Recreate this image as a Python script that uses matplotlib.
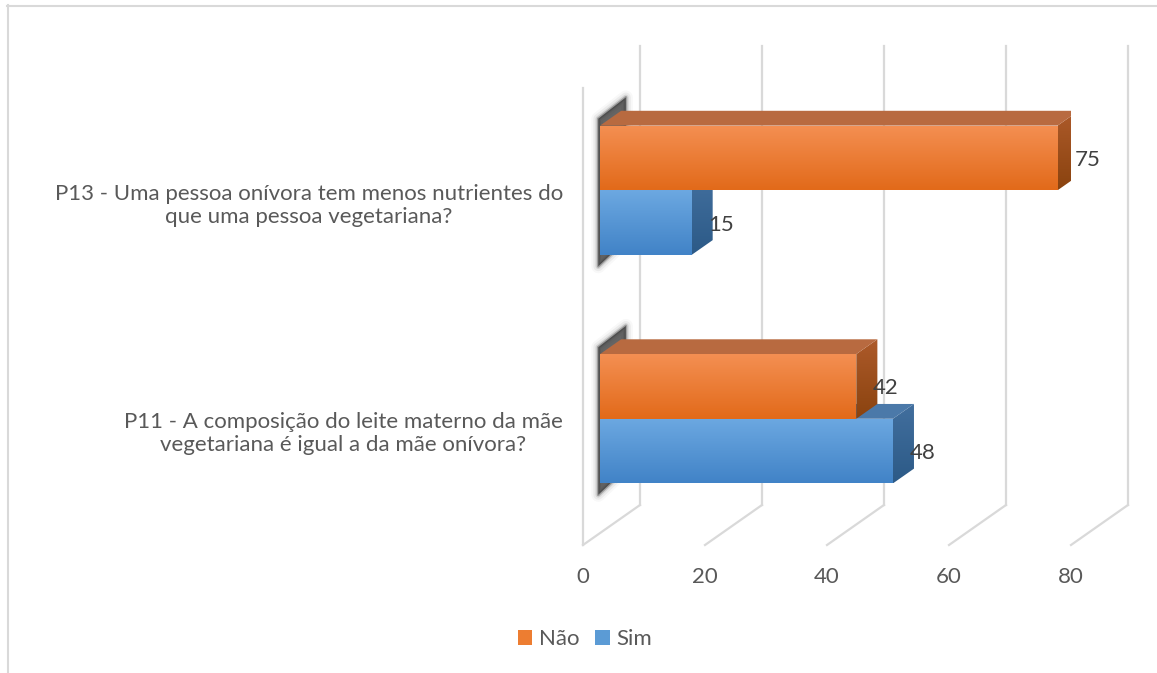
import numpy as np
import matplotlib.pyplot as plt
from matplotlib.patches import Polygon, Patch
from matplotlib.colors import LinearSegmentedColormap
from matplotlib.lines import Line2D

plt.rcParams['font.family'] = ['Lato', 'DejaVu Sans']

# data
categories = ['P11 - A composição do leite materno da mãe\nvegetariana é igual a da mãe onívora?',
              'P13 - Uma pessoa onívora tem menos nutrientes do\nque uma pessoa vegetariana?']
nao = [42, 75]
sim = [48, 15]
ticks = [0, 20, 40, 60, 80]

# 3d look: depth offset in data units (oblique projection)
DX, DY = 9.34, 0.175
D0, D1 = 0.3, 0.67
BAR_H = 0.283
FS = 16

def P(v, c, d):
    return (v + d * DX, c + d * DY)

fig = plt.figure(figsize=(11.57, 6.73), dpi=100)
ax = fig.add_axes([583 / 1157, 128 / 673, 488 / 1157, 457 / 673])
ax.axis('off')

grid_c = '#d9d9d9'
# back wall gridlines + floor lines
for t in ticks:
    x0, y0 = P(t, -0.5, 1)
    x1, y1 = P(t, 1.51, 1)
    ax.add_line(Line2D([x0, x1], [y0, y1], color=grid_c, lw=1.6, clip_on=False, zorder=1))
    xa, ya = P(t, -0.5, 0)
    ax.add_line(Line2D([xa, x0], [ya, y0], color=grid_c, lw=1.6, clip_on=False, zorder=1))
# left wall front edge
xa, ya = P(0, -0.5, 0)
xb, yb = P(0, 1.5, 0)
ax.add_line(Line2D([xa, xb], [ya, yb], color=grid_c, lw=1.6, clip_on=False, zorder=1))


def gradient_face(verts, c_top, c_bot, z):
    poly = Polygon(verts, closed=True, facecolor='none', edgecolor='none', transform=ax.transData)
    ax.add_patch(poly)
    xs = [p[0] for p in verts]
    ys = [p[1] for p in verts]
    cmap = LinearSegmentedColormap.from_list('g', [c_top, c_bot])
    im = ax.imshow(np.linspace(0, 1, 100)[:, None], cmap=cmap, aspect='auto',
                   extent=[min(xs), max(xs), min(ys), max(ys)], zorder=z, interpolation='bilinear')
    im.set_clip_path(poly)
    im.set_clip_on(True)


def draw_bar(v, c0, c1, front, side, top, z):
    # right side face
    side_v = [P(v, c0, D0), P(v, c1, D0), P(v, c1, D1), P(v, c0, D1)]
    gradient_face(side_v, side[0], side[1], z)
    # top face
    top_v = [P(0, c1, D0), P(v, c1, D0), P(v, c1, D1), P(0, c1, D1)]
    ax.add_patch(Polygon(top_v, closed=True, facecolor=top, edgecolor='none', zorder=z + 0.1))
    # front face
    front_v = [P(0, c0, D0), P(v, c0, D0), P(v, c1, D0), P(0, c1, D0)]
    gradient_face(front_v, front[0], front[1], z + 0.2)


def draw_shadow(cb, ct):
    # soft dark shadow on the left of the bar group
    verts = [P(-0.3, cb - 0.05, D0), P(-0.3, ct + 0.03, D0),
             P(0.3, ct + 0.05, D1 + 0.05), P(0.8, cb, D1)]
    for lw, a in [(10, 0.03), (7, 0.06), (4, 0.12), (2, 0.3)]:
        ax.add_patch(Polygon(verts, closed=True, facecolor='none',
                             edgecolor=(0.15, 0.15, 0.15, a), lw=lw, joinstyle='round',
                             zorder=2, clip_on=False))
    ax.add_patch(Polygon(verts, closed=True, facecolor=(0.2, 0.2, 0.2, 0.75),
                         edgecolor='none', zorder=2.05, clip_on=False))


orange_front = ('#f48f52', '#e26a1a')
orange_side = ('#ad5a2a', '#8a430f')
orange_top = '#b86a40'
blue_front = ('#6ca8e1', '#4183c7')
blue_side = ('#426f9e', '#2c5a87')
blue_top = '#4b79a9'

for i, c in enumerate(range(len(categories))):
    draw_shadow(c - BAR_H, c + BAR_H)
    draw_bar(sim[i], c - BAR_H, c, blue_front, blue_side, blue_top, 3 + i * 2)
    draw_bar(nao[i], c, c + BAR_H, orange_front, orange_side, orange_top, 4 + i * 2)
    ax.annotate(str(nao[i]), xy=(nao[i], c + BAR_H / 2), xytext=(34, 10), textcoords='offset pixels',
                ha='left', va='center', fontsize=FS, color='#404040', zorder=20)
    ax.annotate(str(sim[i]), xy=(sim[i], c - BAR_H / 2), xytext=(34, 10), textcoords='offset pixels',
                ha='left', va='center', fontsize=FS, color='#404040', zorder=20)
    ax.annotate(categories[i], xy=(0, c), xytext=(-20, -3), textcoords='offset pixels',
                ha='right', va='center', multialignment='center', fontsize=FS,
                color='#595959', linespacing=1.2)

for t in ticks:
    ax.annotate(str(t), xy=(t, -0.5), xytext=(0, -32), textcoords='offset pixels',
                ha='center', va='center', fontsize=FS, color='#595959')

ax.set_xlim(0, 80)
ax.set_ylim(-0.5, 1.5)

# legend
handles = [Patch(facecolor='#ed7d31', label='Não'), Patch(facecolor='#5b9bd5', label='Sim')]
fig.legend(handles=handles, loc='center', bbox_to_anchor=(585 / 1157, 1 - 639 / 673), ncol=2,
           frameon=False, fontsize=FS, labelcolor='#595959', handlelength=0.65,
           handleheight=0.65, handletextpad=0.3, columnspacing=0.7)

# chart border
fig.add_artist(Line2D([7 / 1157, 1], [1 - 5.5 / 673, 1 - 5.5 / 673], color='#d9d9d9', lw=1.5,
                      transform=fig.transFigure))
fig.add_artist(Line2D([7.5 / 1157, 7.5 / 1157], [0, 1 - 5 / 673], color='#d9d9d9', lw=1.5,
                      transform=fig.transFigure))

fig.savefig('out.png', dpi=100)
